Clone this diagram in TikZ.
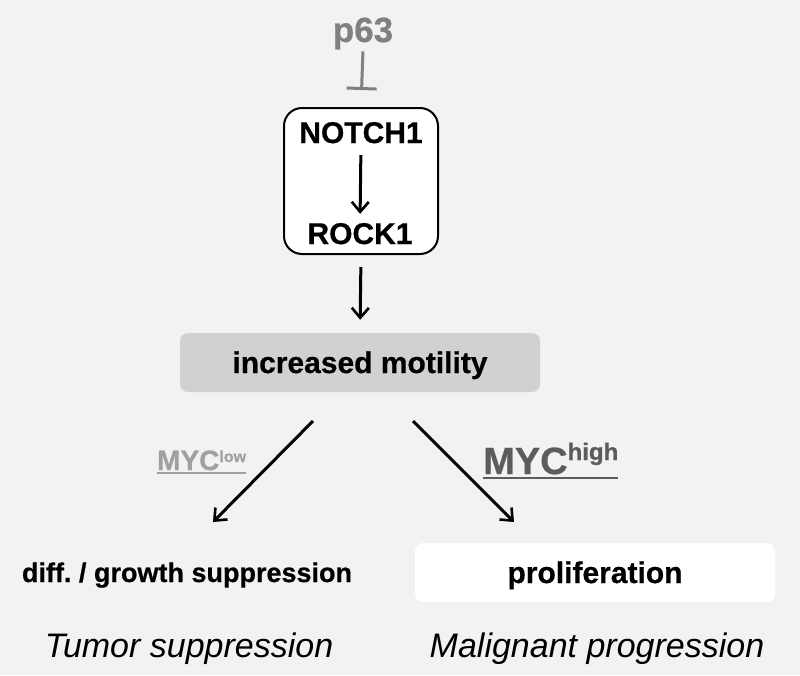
\documentclass[tikz,border=0pt]{standalone}
\usepackage{fontspec}
\setmainfont{Liberation Sans}[BoldFeatures={FakeBold=0.6}]
\usetikzlibrary{arrows.meta}
\definecolor{bggray}{HTML}{F2F2F2}
\definecolor{boxgray}{HTML}{D1D1D1}
\definecolor{lowgray}{HTML}{A0A0A0}
\definecolor{highgray}{HTML}{5C5C5C}
\definecolor{inhibgray}{HTML}{808080}
\newcommand{\fsz}[1]{\fontsize{#1}{#1}\selectfont}
\frenchspacing
\tikzset{
  lbl/.style={inner sep=0pt,anchor=base,font=\bfseries\fsz{27}},
  arr/.style={line width=3pt,-{Straight Barb[length=10pt,width=17pt,line width=2.6pt]}},
}
\begin{document}
\begin{tikzpicture}[x=1pt,y=-1pt]
    \fill[bggray] (0,0) rectangle (800,675);
    \useasboundingbox (0,0) rectangle (800,675);
    %% top: p63 and the NOTCH1/ROCK1 box
    \node[lbl,inhibgray,font=\bfseries\fsz{35}] (p63) at (363,42) {p63};
    \node[draw,line width=2pt,rounded corners=18pt,fill=white,
          minimum width=154pt,minimum height=146pt] (box) at (361,181) {};
    \node[lbl,font=\bfseries\fsz{30}] (notch) at (361,143) {NOTCH1};
    \node[lbl,font=\bfseries\fsz{30}] (rock) at (360,244) {ROCK1};
    \draw[line width=3pt,inhibgray,shorten <=2pt,shorten >=17pt,
          -{Bar[width=30pt,line width=3pt]}] (p63.south) -- (box.north);
    \draw[arr,shorten <=12pt,shorten >=9pt] (notch.base) -- (rock.north);
    %% seperation
    \node[fill=boxgray,rounded corners=8pt,minimum width=360pt,minimum height=59pt] (motility) at (360,362.5) {};
    \node[lbl,font=\bfseries\fsz{30}] (motil) at (360,373) {increased motility};
    \draw[arr,shorten <=12pt,shorten >=13pt] (box.south) -- (motility.north);
    %% the two branches
    \coordinate (lstart) at (313,421);
    \coordinate (lend) at (213,522);
    \coordinate (rstart) at (413,421);
    \coordinate (rend) at (514,522);
    \draw[arr] (lstart) -- (lend);
    \draw[arr] (rstart) -- (rend);
    \node[lbl,anchor=base west,lowgray,font=\bfseries\fsz{28}] (myclow) at (157,470)
        {MYC\raisebox{8pt}{\fsz{16}low}};
    \draw[lowgray,line width=2pt] ([yshift=-3pt]myclow.base west) -- ([yshift=-3pt]myclow.base east);
    \node[lbl,anchor=base west,highgray,font=\bfseries\fsz{38}] (mychigh) at (483,474)
        {MYC\raisebox{14pt}{\fsz{24}high}};
    \draw[highgray,line width=2pt] ([yshift=-4pt]mychigh.base west) -- ([yshift=-4pt]mychigh.base east);
    %% outcomes
    \node[fill=white,rounded corners=8pt,minimum width=360pt,minimum height=59pt] (pbox) at (595,572.5) {};
    \node[lbl,font=\bfseries\fsz{30}] (prolif) at (595,583) {proliferation};
    \node[lbl] (diff) at (187,582) {diff. / growth suppression};
    \node[lbl,font=\itshape\fsz{34}] (tumor) at (189,657) {Tumor suppression};
    \node[lbl,font=\itshape\fsz{34}] (malig) at (597,657) {Malignant progression};
\end{tikzpicture}
\end{document}
